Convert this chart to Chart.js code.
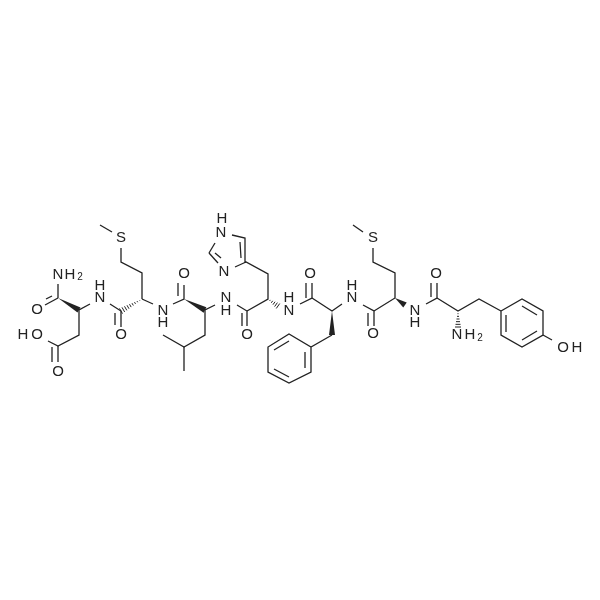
<!DOCTYPE html>
<html lang="en">
<head>
<meta charset="UTF-8">
<title>Peptide structure</title>
<script src="https://cdn.jsdelivr.net/npm/chart.js"></script>
<style>
  html, body { margin: 0; padding: 0; background: #fff; }
  canvas { display: block; }
</style>
</head>
<body>
<canvas id="chartCanvas" width="600" height="600"></canvas>
<script>
// Bond paths, as lists of x,y pairs in the drawing's units
const bondPaths = [
  // Asn end
  [58,284, 58,298], [58,298, 45,305], [52,296, 46,299],
  [90,304, 79,310, 79,335, 58,346, 48,341], [58,346, 58,362], [52,347, 52,362],
  [110,304, 121,311, 121,327], [115,313, 115,325],
  // Met
  [142,299, 142,273, 121,262, 121,248], [112,232, 100,225],
  [142,299, 153,304],
  // Leu
  [173,304, 184,299, 184,285], [178,296, 178,283],
  [163,335, 184,347, 205,335, 205,310, 215,305], [184,347, 184,371],
  // His
  [237,305, 247,311, 247,326], [242,313, 242,326],
  [247,311, 268,299, 268,274, 246,262, 245,238, 232,235],
  [246,262, 235,267], [240,242, 241,258],
  [209,253, 215,243], [209,253, 218,263], [215,253, 221,258],
  // Phe
  [300,304, 312,298, 312,283], [306,298, 306,283],
  [312,298, 332,311, 342,304],
  [332,335, 311,347, 289,334, 268,347, 268,372, 289,383, 311,372, 311,347],
  [274,350, 289,341], [274,369, 289,377], [305,352, 305,368],
  // Met
  [363,305, 374,311, 374,326], [368,313, 368,326],
  [374,311, 395,298, 395,273, 373,262, 373,248], [363,232, 353,225],
  // Tyr
  [426,304, 437,298, 437,283], [431,297, 431,283],
  [437,298, 458,311, 479,299, 501,311],
  [501,311, 522,299, 543,311, 543,335, 522,347, 501,335, 501,311],
  [506,315, 506,332], [522,306, 537,315], [522,340, 537,331],
  [543,335, 552,340]
];

// Stereo bonds, narrow end first: x1,y1,x2,y2
const wedgeBonds = [
  [58,298, 79,310], [184,299, 205,310], [332,311, 332,335], [395,298, 405,305]
];
const hashBonds = [
  [142,299, 121,311], [268,299, 278,306], [458,311, 458,327]
];

// Atom labels
const atomText = ['N','H','2','O','H','O','O','H','N','O','S','N','H','O',
  'H','N','N','N','H','O','H','N','O','H','N','O','S','N','H','O','N','H','2','O','H'];
const atomX = [58,70,80,37,23,37,58,100,100,121,121,163,163,184,
  222,221,224,226,226,247,289,289,310,352,352,373,373,415,415,436,457,470,480,563,577];
const atomY = [275,275,277,310,335,335,372,286,298,335,238,311,323,274,
  219,233,272,298,311,335,298,311,274,286,298,334,238,311,323,274,335,335,338,348,348];

const ink = '#222222';

// solid and hashed stereo bonds plus the atom letters, placed through the scales
const moleculePlugin = {
  id: 'molecule',
  afterDatasetsDraw(chart) {
    const { ctx, scales: { x, y } } = chart;
    ctx.save();
    ctx.fillStyle = ink;
    ctx.strokeStyle = ink;
    wedgeBonds.forEach(b => {
      const [x1, y1, x2, y2] = [x.getPixelForValue(b[0]), y.getPixelForValue(b[1]), x.getPixelForValue(b[2]), y.getPixelForValue(b[3])];
      const len = Math.hypot(x2 - x1, y2 - y1);
      const nx = -(y2 - y1) / len * 3, ny = (x2 - x1) / len * 3;
      ctx.beginPath();
      ctx.moveTo(x1, y1);
      ctx.lineTo(x2 + nx, y2 + ny);
      ctx.lineTo(x2 - nx, y2 - ny);
      ctx.closePath();
      ctx.fill();
    });
    ctx.lineWidth = 1;
    hashBonds.forEach(b => {
      const [x1, y1, x2, y2] = [x.getPixelForValue(b[0]), y.getPixelForValue(b[1]), x.getPixelForValue(b[2]), y.getPixelForValue(b[3])];
      const len = Math.hypot(x2 - x1, y2 - y1);
      const steps = Math.round(len / 2.6);
      for (let i = 1; i <= steps; i++) {
        const t = i / steps;
        const px = x1 + (x2 - x1) * t, py = y1 + (y2 - y1) * t;
        const nx = -(y2 - y1) / len * 3 * t, ny = (x2 - x1) / len * 3 * t;
        ctx.beginPath();
        ctx.moveTo(px + nx, py + ny);
        ctx.lineTo(px - nx, py - ny);
        ctx.stroke();
      }
    });
    ctx.textAlign = 'center';
    ctx.textBaseline = 'middle';
    atomText.forEach((t, i) => {
      ctx.font = (t === '2' ? '10px' : '15px') + ' "Liberation Sans", Arial, sans-serif';
      ctx.fillText(t, x.getPixelForValue(atomX[i]), y.getPixelForValue(atomY[i]));
    });
    ctx.restore();
  }
};

const datasets = bondPaths.map(path => {
  const data = [];
  for (let i = 0; i < path.length; i += 2) data.push({ x: path[i], y: path[i + 1] });
  return { data, showLine: true, borderColor: ink, borderWidth: 1.3, pointRadius: 0, tension: 0, fill: false };
});

new Chart(document.getElementById('chartCanvas').getContext('2d'), {
  type: 'scatter',
  data: { datasets },
  options: {
    responsive: false,
    animation: false,
    devicePixelRatio: 1,
    layout: { padding: 0 },
    plugins: { legend: { display: false }, tooltip: { enabled: false } },
    scales: {
      x: { type: 'linear', min: 0, max: 600, display: false },
      y: { type: 'linear', min: 0, max: 600, reverse: true, display: false }
    }
  },
  plugins: [moleculePlugin]
});
</script>
</body>
</html>
